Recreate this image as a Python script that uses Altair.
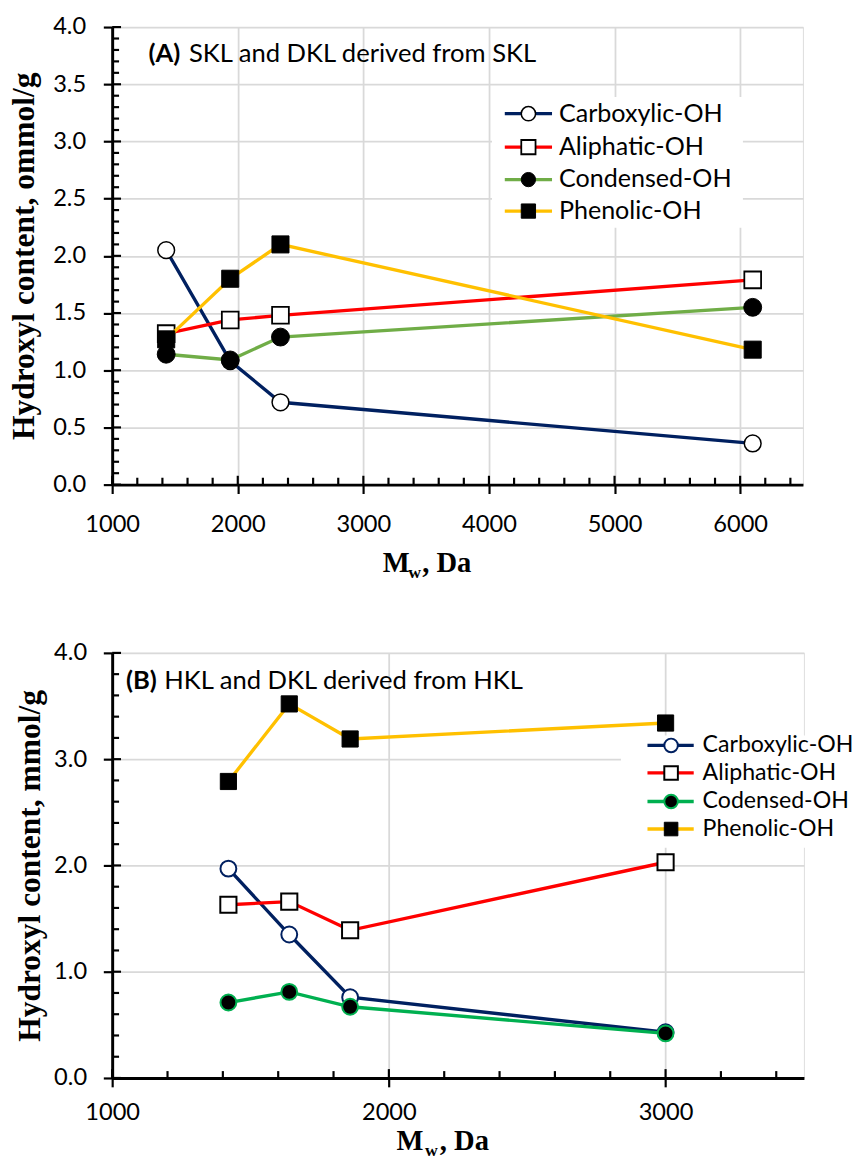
import altair as alt
import pandas as pd

# ---------------- data ----------------
SERIES_A = ["Carboxylic-OH", "Aliphatic-OH", "Condensed-OH", "Phenolic-OH"]
SERIES_B = ["Carboxylic-OH", "Aliphatic-OH", "Codensed-OH", "Phenolic-OH"]

MW_A = [1430, 1940, 2340, 6100]
CARBOXYLIC_A = [2.05, 1.08, 0.72, 0.36]
ALIPHATIC_A = [1.32, 1.44, 1.48, 1.79]
CONDENSED_A = [1.14, 1.09, 1.29, 1.55]
PHENOLIC_A = [1.27, 1.80, 2.10, 1.18]

MW_B = [1420, 1640, 1860, 3000]
CARBOXYLIC_B = [1.97, 1.35, 0.76, 0.43]
ALIPHATIC_B = [1.63, 1.66, 1.39, 2.03]
CONDENSED_B = [0.71, 0.81, 0.67, 0.42]
PHENOLIC_B = [2.79, 3.52, 3.19, 3.34]

X_MAJOR_A = [1000, 2000, 3000, 4000, 5000, 6000]
Y_MAJOR_A = [0.0, 0.5, 1.0, 1.5, 2.0, 2.5, 3.0, 3.5, 4.0]
X_MAJOR_B = [1000, 2000, 3000]
Y_MAJOR_B = [0.0, 1.0, 2.0, 3.0, 4.0]

TITLE_A = ("(A)", "SKL and DKL derived from SKL")
TITLE_B = ("(B)", "HKL and DKL derived from HKL")
Y_TITLE_A = "Hydroxyl content, ommol/g"
Y_TITLE_B = "Hydroxyl content, mmol/g"

LABEL_FONT = "Lato"
SERIF = "Liberation Serif"


def minor(lo, hi, step, majors):
    vals = []
    v = lo
    while v <= hi + 1e-9:
        if all(abs(v - m) > 1e-6 for m in majors):
            vals.append(round(v, 4))
        v += step
    return vals


def build_panel(mw, vals, names, colors, pstyles, xdom, xmajor, ymajor, xminor, yminor,
                w, h, title, ytitle, tpos, legend, xt, pads):
    rows = []
    for name, ys in zip(names, vals):
        for x, y in zip(mw, ys):
            rows.append({"series": name, "x": x, "y": y})
    df = pd.DataFrame(rows)

    xs = alt.Scale(domain=xdom, nice=False, zero=False)
    ys = alt.Scale(domain=[0, 4], nice=False, zero=False)
    xaxis = alt.Axis(values=xmajor, format="d", grid=True, gridColor="#d9d9d9", gridWidth=1.8,
                     domainColor="black", domainWidth=3, tickColor="black", tickWidth=2.2,
                     tickSize=9, labelFont=LABEL_FONT, labelFontSize=24, labelColor="black",
                     labelPadding=pads[2], labelFlush=False)
    yaxis = alt.Axis(values=ymajor, format=".1f", grid=True, gridColor="#d9d9d9", gridWidth=1.8,
                     domainColor="black", domainWidth=3, tickColor="black", tickWidth=2.2,
                     tickSize=9, labelFont=LABEL_FONT, labelFontSize=24, labelColor="black",
                     labelPadding=pads[0], title=ytitle, titleFont=SERIF, titleFontSize=32,
                     titleFontWeight="bold", titleColor="black", titlePadding=pads[1])
    X = lambda: alt.X("x:Q", scale=xs, axis=xaxis, title=None)
    Y = lambda: alt.Y("y:Q", scale=ys, axis=yaxis, title=ytitle)

    layers = []

    # legend background
    one = pd.DataFrame({"k": [0]})
    lx0, lx1, ly0, ly1 = legend["box"]
    layers.append(alt.Chart(one).mark_rect(fill="white").encode(
        x=alt.value(lx0), x2=alt.value(lx1), y=alt.value(ly0), y2=alt.value(ly1)))

    # data
    for name, c, ps in zip(names, colors, pstyles):
        base = alt.Chart(df).transform_filter(alt.datum.series == name)
        layers.append(base.mark_line(color=c, strokeWidth=3.4).encode(x=X(), y=Y()))
        layers.append(base.mark_point(shape=ps["shape"], filled=True, fill=ps["fill"],
                                      stroke=ps["stroke"], strokeWidth=ps["sw"],
                                      size=ps["size"], opacity=1).encode(x=X(), y=Y()))

    # inward tick marks (major cross the axis, minor inside only)
    for ln, tv in ((9, ymajor), (7, yminor)):
        sub = pd.DataFrame({"y": tv})
        layers.append(alt.Chart(sub).mark_rule(color="black", strokeWidth=2.2).encode(
            y=Y(), x=alt.value(0), x2=alt.value(ln)))
    for ln, tv in ((9, xmajor), (7, xminor)):
        sub = pd.DataFrame({"x": tv})
        layers.append(alt.Chart(sub).mark_rule(color="black", strokeWidth=2.2).encode(
            x=X(), y=alt.value(h - ln), y2=alt.value(h)))

    # legend entries
    ldf = pd.DataFrame({"series": names})
    l0, l1, lm, lt = legend["x"]
    for i, (name, c, ps) in enumerate(zip(names, colors, pstyles)):
        yy = legend["rows"][i]
        b = alt.Chart(ldf).transform_filter(alt.datum.series == name)
        layers.append(b.mark_rule(color=c, strokeWidth=3.4).encode(
            x=alt.value(l0), x2=alt.value(l1), y=alt.value(yy)))
        layers.append(b.mark_point(shape=ps["shape"], filled=True, fill=ps["fill"],
                                   stroke=ps["stroke"], strokeWidth=ps["sw"],
                                   size=legend["msize"], opacity=1).encode(
            x=alt.value(lm), y=alt.value(yy)))
        layers.append(b.mark_text(align="left", baseline="middle", font=LABEL_FONT,
                                  fontSize=legend["fs"], color="black").encode(
            x=alt.value(lt), y=alt.value(yy), text="series:N"))

    # panel title
    tdf = pd.DataFrame({"t": [title[0]], "r": [title[1]]})
    layers.append(alt.Chart(tdf).mark_text(align="left", baseline="middle", font=LABEL_FONT,
                                           fontSize=26, fontWeight="bold", color="black").encode(
        x=alt.value(tpos[0]), y=alt.value(tpos[2]), text="t:N"))
    layers.append(alt.Chart(tdf).mark_text(align="left", baseline="middle", font=LABEL_FONT,
                                           fontSize=26, color="black").encode(
        x=alt.value(tpos[1]), y=alt.value(tpos[2]), text="r:N"))

    # x-axis title  M_w, Da
    xtdf = pd.DataFrame({"m": ["M"], "w": ["w"], "d": [", Da"]})
    common = dict(align="left", baseline="alphabetic", font=SERIF, fontWeight="bold", color="black")
    layers.append(alt.Chart(xtdf).mark_text(fontSize=29, **common).encode(
        x=alt.value(xt[0]), y=alt.value(h + xt[3]), text="m:N"))
    layers.append(alt.Chart(xtdf).mark_text(fontSize=18, **common).encode(
        x=alt.value(xt[1]), y=alt.value(h + xt[3] + 6), text="w:N"))
    layers.append(alt.Chart(xtdf).mark_text(fontSize=29, **common).encode(
        x=alt.value(xt[2]), y=alt.value(h + xt[3]), text="d:N"))

    return alt.layer(*layers).properties(width=w, height=h)


COLORS_A = ["#002060", "#FF0000", "#70AD47", "#FFC000"]
COLORS_B = ["#002060", "#FF0000", "#00B050", "#FFC000"]
PS_A = [
    {"shape": "circle", "fill": "white", "stroke": "black", "sw": 1.5, "size": 290},
    {"shape": "square", "fill": "white", "stroke": "black", "sw": 1.8, "size": 290},
    {"shape": "circle", "fill": "black", "stroke": "black", "sw": 1, "size": 330},
    {"shape": "square", "fill": "black", "stroke": "black", "sw": 1, "size": 300},
]
PS_B = [
    {"shape": "circle", "fill": "white", "stroke": "#002060", "sw": 2, "size": 260},
    {"shape": "square", "fill": "white", "stroke": "black", "sw": 2, "size": 270},
    {"shape": "circle", "fill": "black", "stroke": "#00B050", "sw": 2, "size": 260},
    {"shape": "square", "fill": "black", "stroke": "black", "sw": 1, "size": 270},
]

WA, HA = 702, 465
WB, HB = 703, 432

panel_a = build_panel(
    MW_A, [CARBOXYLIC_A, ALIPHATIC_A, CONDENSED_A, PHENOLIC_A], SERIES_A, COLORS_A, PS_A,
    [1000, 6500], X_MAJOR_A, Y_MAJOR_A, minor(1000, 6400, 200, X_MAJOR_A),
    minor(0, 4.0, 0.1, Y_MAJOR_A), WA, HA, TITLE_A, Y_TITLE_A, (37, 78, 28),
    {"box": (386, 641, 71, 204), "rows": [88, 122, 155, 187], "x": (399, 447, 423, 454),
     "msize": 210, "fs": 25.5},
    (275, 301, 315, 89), (18, 12, 20))

panel_b = build_panel(
    MW_B, [CARBOXYLIC_B, ALIPHATIC_B, CONDENSED_B, PHENOLIC_B], SERIES_B, COLORS_B, PS_B,
    [1000, 3500], X_MAJOR_B, Y_MAJOR_B, minor(1000, 3400, 200, X_MAJOR_B),
    minor(0, 4.0, 0.2, Y_MAJOR_B), WB, HB, TITLE_B, Y_TITLE_B, (14, 53, 29),
    {"box": (517, 760, 84, 198), "rows": [94, 122, 151, 179], "x": (544, 591, 568, 600),
     "msize": 190, "fs": 23.5},
    (289, 318, 333, 73), (17, 7, 14))

chart = alt.concat(panel_a, panel_b, columns=1, spacing=58).properties(
    align="none", padding={"left": 7, "top": 5, "right": 0, "bottom": 0}
).configure_view(strokeWidth=0).configure(background="white")

chart.save("out.html", embed_options={"renderer": "svg", "actions": False})
